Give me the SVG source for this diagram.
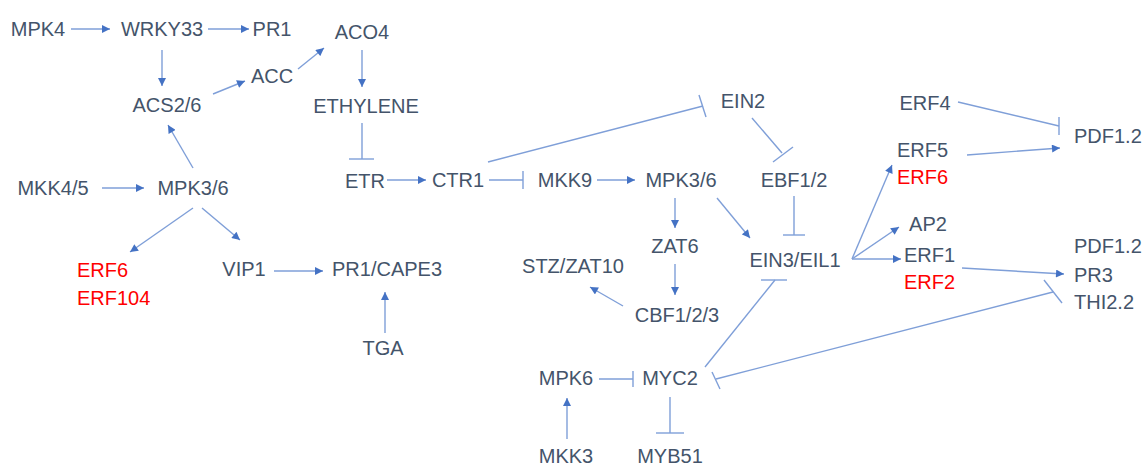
<svg xmlns="http://www.w3.org/2000/svg" width="1143" height="466" viewBox="0 0 1143 466">
<defs>
<style>
.t{font-family:"Liberation Sans",Arial,sans-serif;font-size:20px;fill:#44546A;text-anchor:middle}
.l{text-anchor:start}
.r{fill:#FF0000}
.c{stroke:#7F9FD8;stroke-width:1.4;fill:none}
.a{marker-end:url(#arr)}
</style>
<marker id="arr" viewBox="0 0 10 10" refX="10" refY="5" markerWidth="9" markerHeight="8" orient="auto" markerUnits="userSpaceOnUse"><path d="M0,0 L10,5 L0,10 z" fill="#4472C4"/></marker>
</defs>
<rect width="1143" height="466" fill="#FFFFFF"/>
<g id="connectors">
<line class="c a" x1="71" y1="29" x2="110" y2="29"/>
<line class="c a" x1="208" y1="29" x2="249" y2="29"/>
<line class="c a" x1="162" y1="50" x2="162" y2="86"/>
<line class="c a" x1="213" y1="94" x2="245" y2="81"/>
<line class="c a" x1="298" y1="69" x2="324" y2="48"/>
<line class="c a" x1="362" y1="50" x2="362" y2="87"/>
<line class="c" x1="362" y1="123" x2="362" y2="159"/>
<line class="c" x1="349" y1="159" x2="374" y2="159"/>
<line class="c a" x1="102" y1="188" x2="144" y2="188"/>
<line class="c a" x1="193" y1="168" x2="168" y2="125"/>
<line class="c a" x1="387" y1="180" x2="426" y2="180"/>
<line class="c a" x1="193" y1="208" x2="130" y2="252"/>
<line class="c a" x1="202" y1="208" x2="240" y2="240"/>
<line class="c a" x1="274" y1="271" x2="323" y2="271"/>
<line class="c a" x1="385" y1="333" x2="385" y2="292"/>
<line class="c" x1="488" y1="162" x2="703" y2="106"/>
<line class="c" x1="699" y1="95" x2="706" y2="117"/>
<line class="c" x1="489" y1="180" x2="523" y2="180"/>
<line class="c" x1="523" y1="171" x2="523" y2="189"/>
<line class="c a" x1="597" y1="180" x2="635" y2="180"/>
<line class="c a" x1="675" y1="198" x2="675" y2="228"/>
<line class="c a" x1="717" y1="198" x2="750" y2="238"/>
<line class="c a" x1="675" y1="264" x2="675" y2="295"/>
<line class="c a" x1="623" y1="306" x2="590" y2="287"/>
<line class="c" x1="794" y1="196" x2="794" y2="235"/>
<line class="c" x1="783" y1="235" x2="805" y2="235"/>
<line class="c" x1="705" y1="367" x2="775" y2="280"/>
<line class="c" x1="761" y1="280" x2="787" y2="280"/>
<line class="c" x1="599" y1="379" x2="633" y2="379"/>
<line class="c" x1="633" y1="371" x2="633" y2="387"/>
<line class="c" x1="670" y1="397" x2="670" y2="433"/>
<line class="c" x1="656" y1="433" x2="684" y2="433"/>
<line class="c a" x1="567" y1="439" x2="567" y2="398"/>
<line class="c" x1="716" y1="379" x2="1053" y2="292"/>
<line class="c" x1="712" y1="372" x2="720" y2="389"/>
<line class="c" x1="1044" y1="280" x2="1062" y2="303"/>
<line class="c" x1="752" y1="118" x2="782" y2="153"/>
<line class="c" x1="773" y1="162" x2="793" y2="147"/>
<line class="c" x1="958" y1="102" x2="1059" y2="126"/>
<line class="c" x1="1059" y1="117" x2="1059" y2="135"/>
<line class="c a" x1="967" y1="155" x2="1060" y2="148"/>
<line class="c a" x1="852" y1="259" x2="892" y2="165"/>
<line class="c a" x1="852" y1="259" x2="899" y2="227"/>
<line class="c a" x1="852" y1="259" x2="901" y2="259"/>
<line class="c a" x1="962" y1="268" x2="1064" y2="274"/>
</g>
<g id="n-MPK4"><text class="t" x="38" y="36">MPK4</text></g>
<g id="n-WRKY33"><text class="t" x="162" y="36">WRKY33</text></g>
<g id="n-PR1"><text class="t" x="272" y="36">PR1</text></g>
<g id="n-ACO4"><text class="t" x="362" y="39">ACO4</text></g>
<g id="n-ACC"><text class="t" x="272" y="83">ACC</text></g>
<g id="n-ACS26"><text class="t" x="167" y="112">ACS2/6</text></g>
<g id="n-ETHYLENE"><text class="t" x="366" y="113">ETHYLENE</text></g>
<g id="n-ETR"><text class="t" x="365" y="188">ETR</text></g>
<g id="n-MKK45"><text class="t" x="53" y="195">MKK4/5</text></g>
<g id="n-MPK36a"><text class="t" x="193" y="195">MPK3/6</text></g>
<g id="n-ERF6a"><text class="t l r" x="77" y="277">ERF6</text><text class="t l r" x="77" y="305">ERF104</text></g>
<g id="n-VIP1"><text class="t" x="244" y="276">VIP1</text></g>
<g id="n-PR1CAPE3"><text class="t" x="387" y="276">PR1/CAPE3</text></g>
<g id="n-TGA"><text class="t" x="383" y="355">TGA</text></g>
<g id="n-CTR1"><text class="t" x="458" y="187">CTR1</text></g>
<g id="n-MKK9"><text class="t" x="565" y="187">MKK9</text></g>
<g id="n-MPK36b"><text class="t" x="681" y="187">MPK3/6</text></g>
<g id="n-ZAT6"><text class="t" x="675" y="253">ZAT6</text></g>
<g id="n-STZ"><text class="t" x="573" y="273">STZ/ZAT10</text></g>
<g id="n-CBF"><text class="t" x="677" y="322">CBF1/2/3</text></g>
<g id="n-EIN3"><text class="t" x="795" y="267">EIN3/EIL1</text></g>
<g id="n-MPK6"><text class="t" x="566" y="385">MPK6</text></g>
<g id="n-MYC2"><text class="t" x="670" y="385">MYC2</text></g>
<g id="n-MKK3"><text class="t" x="566" y="463">MKK3</text></g>
<g id="n-MYB51"><text class="t" x="670" y="463">MYB51</text></g>
<g id="n-EIN2"><text class="t" x="743" y="108">EIN2</text></g>
<g id="n-EBF12"><text class="t" x="794" y="187">EBF1/2</text></g>
<g id="n-ERF4"><text class="t" x="925" y="110">ERF4</text></g>
<g id="n-PDF12a"><text class="t l" x="1074" y="143">PDF1.2</text></g>
<g id="n-ERF5"><text class="t l" x="897" y="157">ERF5</text><text class="t l r" x="897" y="184">ERF6</text></g>
<g id="n-AP2"><text class="t" x="928" y="231">AP2</text></g>
<g id="n-ERF1"><text class="t l" x="904" y="262">ERF1</text><text class="t l r" x="904" y="289">ERF2</text></g>
<g id="n-PDF12b"><text class="t l" x="1074" y="253">PDF1.2</text><text class="t l" x="1074" y="282">PR3</text><text class="t l" x="1074" y="309">THI2.2</text></g>
</svg>
